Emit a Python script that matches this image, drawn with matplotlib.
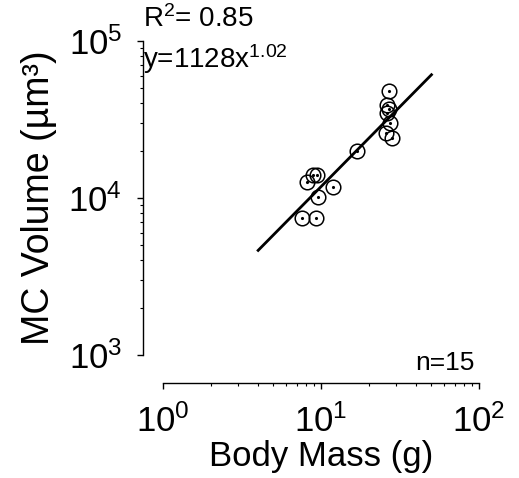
# MC volume vs body mass, log-log with power fit
import numpy as np
import matplotlib.pyplot as plt
from matplotlib.ticker import LogLocator, NullFormatter

plt.rcParams['font.family'] = ['Liberation Sans', 'DejaVu Sans']
plt.rcParams['mathtext.default'] = 'regular'

# data
body_mass = [26.9, 26.2, 26.9, 26.2, 27.3, 25.8, 28.1, 16.9,
             8.9, 9.4, 8.15, 11.9, 9.57, 7.58, 9.3]
mc_volume = [48000, 39100, 36900, 34800, 30000, 25900, 24100, 19900,
             14000, 14000, 12600, 11750, 10150, 7460, 7460]

# power fit y = a * x^b
fit_a = 1128
fit_b = 1.02
fit_x = np.array([4.0, 50.0])
fit_y = fit_a * fit_x ** fit_b

fig = plt.figure(figsize=(5.19, 4.78), dpi=100)
ax = fig.add_axes([0.3141, 0.2573, 0.6089, 0.6569])

ax.plot(fit_x, fit_y, color='black', lw=2.0, zorder=2)
ax.plot(body_mass, mc_volume, 'o', ms=10.5, mfc='none', mec='black', mew=1.1, zorder=3)
ax.plot(body_mass, mc_volume, '.', ms=2.5, color='black', zorder=3)

ax.set_xscale('log')
ax.set_yscale('log')
ax.set_xlim(1, 100)
ax.set_ylim(1e3, 1e5)

for s in ['top', 'right']:
    ax.spines[s].set_visible(False)
ax.spines['left'].set_position(('outward', 14.4))
ax.spines['bottom'].set_position(('outward', 20.5))
ax.spines['left'].set_linewidth(1.0)
ax.spines['bottom'].set_linewidth(1.0)

ax.xaxis.set_major_locator(LogLocator(base=10, numticks=5))
ax.yaxis.set_major_locator(LogLocator(base=10, numticks=5))
ax.xaxis.set_minor_locator(LogLocator(base=10, subs=np.arange(2, 10), numticks=10))
ax.yaxis.set_minor_locator(LogLocator(base=10, subs=np.arange(2, 10), numticks=10))
ax.xaxis.set_minor_formatter(NullFormatter())
ax.yaxis.set_minor_formatter(NullFormatter())

ax.tick_params(which='major', direction='out', length=4, width=1.0, labelsize=25)
ax.tick_params(axis='x', which='major', pad=11)
ax.tick_params(axis='y', which='major', pad=11)
ax.tick_params(which='minor', direction='out', length=2.5, width=0.8)

ax.set_xlabel('Body Mass (g)', fontsize=25, labelpad=1)
ax.set_ylabel('MC Volume (µm³)', fontsize=27, labelpad=8)

ax.text(-0.063, 1.045, 'R$^2$= 0.85', transform=ax.transAxes, fontsize=20,
        ha='left', va='baseline')
ax.text(-0.063, 0.914, 'y=1128x$^{1.02}$', transform=ax.transAxes, fontsize=20,
        ha='left', va='baseline')
ax.text(0.987, -0.048, 'n=15', transform=ax.transAxes, fontsize=19,
        ha='right', va='baseline')

fig.savefig('out.png', dpi=100)
